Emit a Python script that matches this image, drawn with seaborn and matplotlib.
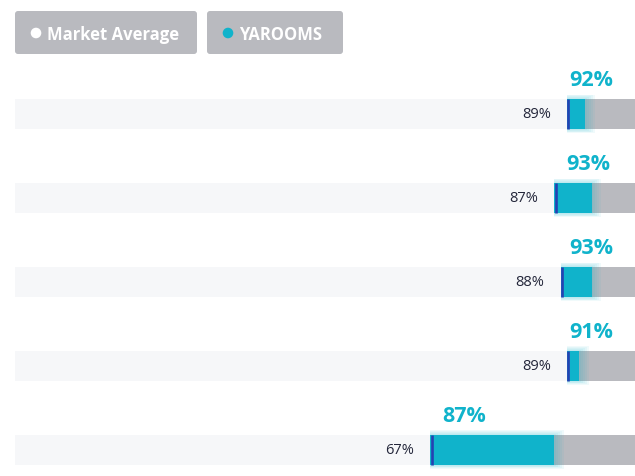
import matplotlib
matplotlib.use('Agg')
import matplotlib.pyplot as plt
from matplotlib.patches import FancyBboxPatch, Circle
import pandas as pd
import seaborn as sns

# values
rows = ['1', '2', '3', '4', '5']
market = [89, 87, 88, 89, 67]
yarooms = [92, 93, 93, 91, 87]
legend_labels = ['Market Average', 'YAROOMS']

LIGHT = '#f6f7f9'
GRAY = '#b9babf'
CYAN = '#10b3cb'
BLUE = '#2541b2'
DARK = '#23263a'
BAR_W = 0.357

df = pd.DataFrame({'row': rows, 'market': market, 'yarooms': yarooms,
                   'full': [100] * len(rows)})

sns.set_theme(style='white')
plt.rcParams['font.family'] = ['Open Sans', 'DejaVu Sans']

fig = plt.figure(figsize=(6.35, 4.77), dpi=100)
ax = fig.add_axes([15 / 635, 1 - 476 / 477, 620 / 635, 403 / 477])

common = dict(y='row', orient='h', width=BAR_W, saturation=1,
              errorbar=None, linewidth=0, ax=ax)
sns.barplot(data=df, x='full', color=GRAY, **common)

# soft glow around the YAROOMS segment
for k in [1.5, 1.2, 0.9, 0.6, 0.3]:
    ax.barh(range(len(rows)), [y - m + k for m, y in zip(market, yarooms)],
            left=market, height=BAR_W + k * 0.07, color=CYAN, alpha=0.06,
            linewidth=0)

sns.barplot(data=df, x='yarooms', color=CYAN, **common)
sns.barplot(data=df, x='market', color=LIGHT, **common)

for i, (m, y) in enumerate(zip(market, yarooms)):
    ax.vlines(m + 0.25, i - BAR_W / 2, i + BAR_W / 2, color=BLUE, linewidth=1.9)
    ax.text(m - 2.6, i, f'{m}%', ha='right', va='center', fontsize=10.5,
            color=DARK)
    ax.text(min(m + 5.5, 93), i - 0.41, f'{y}%', ha='center', va='center',
            fontsize=15.5, fontweight='bold', color=CYAN)

ax.set_xlim(0, 100)
ax.set_ylim(4.3, -0.5)
ax.axis('off')

# legend buttons, drawn in pixel space
lg = fig.add_axes([0, 0, 1, 1], zorder=-1)
lg.set_xlim(0, 635)
lg.set_ylim(477, 0)
lg.axis('off')
buttons = [(15, 182, 'white'), (207, 136, CYAN)]
for (x0, w, dot), label in zip(buttons, legend_labels):
    lg.add_patch(FancyBboxPatch((x0, 12), w, 43,
                                boxstyle='round,pad=0,rounding_size=3',
                                facecolor=GRAY, edgecolor='none'))
    lg.add_patch(Circle((x0 + 21, 34), 5.3, facecolor=dot, edgecolor='none'))
    lg.text(x0 + 32, 34.5, label, ha='left', va='center', fontsize=12,
            fontweight='bold', color='white')

fig.savefig('out.png', dpi=100)
